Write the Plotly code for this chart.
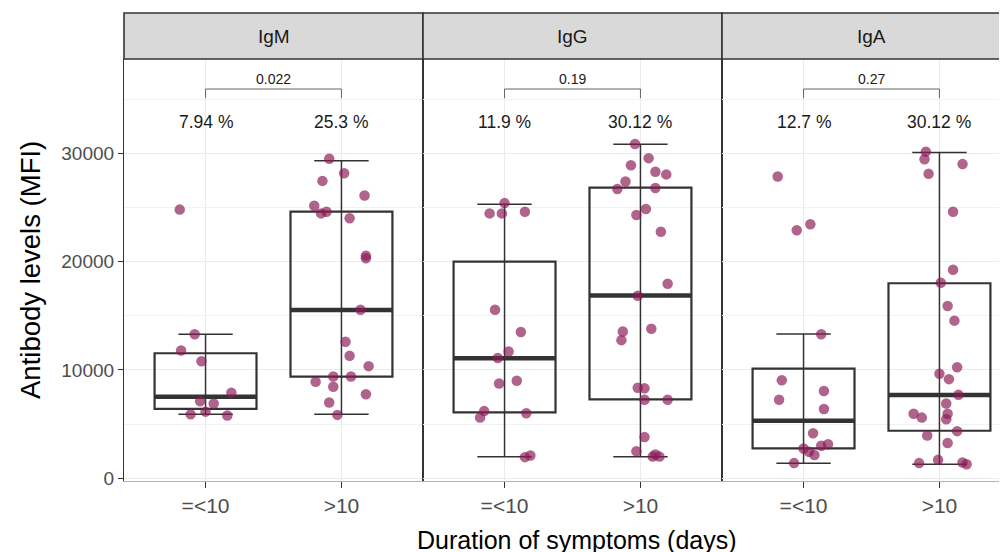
import plotly.graph_objects as go

# ---------------- data ----------------
facets = ["IgM", "IgG", "IgA"]
categories = ["=<10", ">10"]

igm_low = [24800, 13300, 11800, 10800, 7900, 7100, 6900, 5900, 6150, 5800]
igm_high = [29500, 28150, 27450, 26100, 25150, 24450, 24600, 24000, 20550, 20300, 15550,
            12600, 11300, 10350, 9400, 9400, 8900, 8450, 7750, 7000, 5850]
igg_low = [25400, 24450, 24450, 24600, 15550, 13500, 11700, 11100, 8750, 9000, 6200,
           5600, 6000, 1950, 2100]
igg_high = [30850, 29550, 28900, 28300, 28050, 27400, 26700, 26800, 24850, 24300, 22750,
            17950, 16850, 13550, 12750, 13800, 8350, 8300, 7250, 7250, 3800, 2500, 2000,
            2000, 2200]
iga_low = [27850, 23450, 22900, 13300, 9050, 8050, 7250, 6400, 4150, 2750, 2450, 2150,
           3000, 3150, 1400]
iga_high = [30150, 29450, 29000, 28100, 24600, 19250, 18050, 15900, 14550, 10250, 9650,
            9150, 7700, 6900, 5950, 5600, 5950, 5450, 4350, 3950, 3250, 1400, 1700, 1450, 1300]

# horizontal jitter (category units)
jit_igm_low = [-0.19, -0.08, -0.18, -0.03, 0.19, -0.04, 0.06, -0.11, 0.0, 0.16]
jit_igm_high = [-0.09, 0.02, -0.14, 0.17, -0.2, -0.15, -0.11, 0.06, 0.18, 0.18, 0.14, 0.03,
                0.06, 0.2, -0.06, 0.07, -0.19, -0.06, 0.18, -0.09, -0.03]
jit_igg_low = [0, -0.11, -0.02, 0.15, -0.07, 0.12, 0.03, -0.05, -0.04, 0.09, -0.15, -0.18,
               0.16, 0.15, 0.19]
jit_igg_high = [-0.04, 0.06, -0.07, 0.11, 0.19, -0.11, -0.17, 0.11, 0.04, -0.03, 0.15, 0.2,
                -0.02, -0.13, -0.14, 0.08, -0.02, 0.03, 0.03, 0.2, 0.03, -0.03, 0.09, 0.14, 0.11]
jit_iga_low = [-0.19, 0.05, -0.05, 0.13, -0.16, 0.15, -0.18, 0.15, 0.07, 0.0, 0.04, 0.08,
               0.13, 0.18, -0.07]
jit_iga_high = [-0.1, -0.11, 0.17, -0.08, 0.1, 0.1, 0.01, 0.06, 0.11, 0.13, 0.0, 0.07, 0.14,
                0.05, -0.19, -0.13, 0.06, 0.05, 0.13, -0.09, 0.06, -0.15, -0.01, 0.17, 0.2]

# box statistics per facet: [=<10, >10]
box_q1 = [[6400, 9380], [6090, 7290], [2770, 4390]]
box_median = [[7530, 15530], [11080, 16860], [5320, 7690]]
box_q3 = [[11540, 24610], [19990, 26830], [10120, 18000]]
whisker_low = [[5910, 5910], [1990, 1990], [1390, 1290]]
whisker_high = [[13290, 29320], [25290, 30830], [13320, 30060]]

pct_labels = [["7.94 %", "25.3 %"], ["11.9 %", "30.12 %"], ["12.7 %", "30.12 %"]]
p_values = ["0.022", "0.19", "0.27"]

y_ticks = [0, 10000, 20000, 30000]

values = [[igm_low, igm_high], [igg_low, igg_high], [iga_low, iga_high]]
jitters = [[jit_igm_low, jit_igm_high], [jit_igg_low, jit_igg_high], [jit_iga_low, jit_iga_high]]

# ---------------- layout constants ----------------
OFF = 8  # page body margin
# page pixel positions (third panel continues past the visible edge, as in the reference crop)
panel_page = [(124, 423), (423, 722), (722, 1021)]
strip_top_page, panel_top_page, panel_bot_page = 13, 59, 481
W = panel_page[-1][1] - OFF + 2
H = 545
ML = 124 - OFF
MT = strip_top_page - OFF
MR = W - (panel_page[-1][1] - OFF)
MB = H - (panel_bot_page - OFF)
PW = W - ML - MR
PH = H - MT - MB


def px_x(p):
    return (p - OFF - ML) / PW


def px_y(p):
    return (panel_bot_page - p) / PH


FONT = "Liberation Sans, Arial, Helvetica, sans-serif"
POINT_COLOR = "rgba(139,26,85,0.68)"
BOX_COLOR = "#333333"

ydom_top = (panel_bot_page - panel_top_page) / PH

fig = go.Figure()

for f in range(3):
    xa = "x" if f == 0 else f"x{f+1}"
    ya = "y" if f == 0 else f"y{f+1}"
    for c in range(2):
        lo, hi = whisker_low[f][c], whisker_high[f][c]
        fig.add_trace(go.Scatter(
            x=[c, c, None, c - 0.2, c + 0.2, None, c - 0.2, c + 0.2],
            y=[lo, hi, None, lo, lo, None, hi, hi],
            mode="lines", line=dict(color=BOX_COLOR, width=1.5),
            xaxis=xa, yaxis=ya, showlegend=False, hoverinfo="skip"))
        fig.add_trace(go.Box(
            x=[c], q1=[box_q1[f][c]], median=[box_median[f][c]], q3=[box_q3[f][c]],
            lowerfence=[box_q1[f][c]], upperfence=[box_q3[f][c]],
            width=0.75, whiskerwidth=0, fillcolor="rgba(0,0,0,0)",
            line=dict(color=BOX_COLOR, width=2.2), boxpoints=False,
            xaxis=xa, yaxis=ya, showlegend=False, hoverinfo="skip"))
        fig.add_trace(go.Scatter(
            x=[c - 0.375, c + 0.375], y=[box_median[f][c]] * 2,
            mode="lines", line=dict(color=BOX_COLOR, width=4.5),
            xaxis=xa, yaxis=ya, showlegend=False, hoverinfo="skip"))
    for c in range(2):
        vals = values[f][c]
        jit = jitters[f][c]
        fig.add_trace(go.Scatter(
            x=[c + j for j in jit], y=vals, mode="markers",
            marker=dict(color=POINT_COLOR, size=10.5, line=dict(width=0)),
            xaxis=xa, yaxis=ya, showlegend=False))
    fig.add_trace(go.Scatter(
        x=[0, 0, 1, 1], y=[35077, 35930, 35930, 35077], mode="lines",
        line=dict(color="#555555", width=0.9),
        xaxis=xa, yaxis=ya, showlegend=False, hoverinfo="skip"))
    fig.add_annotation(x=0.5, y=36900, xref=xa, yref=ya, text=p_values[f], showarrow=False,
                       font=dict(family=FONT, size=14, color="#1a1a1a"))
    for c in range(2):
        fig.add_annotation(x=c, y=32900, xref=xa, yref=ya, text=pct_labels[f][c],
                           showarrow=False, font=dict(family=FONT, size=17.5, color="#1a1a1a"))

    x0 = px_x(panel_page[f][0])
    x1 = px_x(panel_page[f][1])
    fig.add_shape(type="rect", xref="paper", yref="paper", x0=x0, x1=x1,
                  y0=ydom_top, y1=1.0, fillcolor="#d9d9d9",
                  line=dict(color="#333333", width=1.6), layer="above")
    fig.add_annotation(x=0.5, xref=xa, y=(ydom_top + 1) / 2, yref="paper", text=facets[f],
                       showarrow=False, yanchor="middle",
                       font=dict(family=FONT, size=19, color="#1a1a1a"))

    xkey = "xaxis" if f == 0 else f"xaxis{f+1}"
    ykey = "yaxis" if f == 0 else f"yaxis{f+1}"
    fig.update_layout({
        xkey: dict(domain=[x0, x1], range=[-0.6, 1.6], anchor=ya,
                   tickvals=[0, 1], ticktext=categories, ticks="outside", ticklen=6,
                   tickcolor="#333333", tickwidth=1.2,
                   tickfont=dict(family=FONT, size=21, color="#4d4d4d"),
                   showgrid=True, gridcolor="#ebebeb", gridwidth=1.1,
                   showline=True, linecolor="#b3b3b3", linewidth=1,
                   zeroline=False, fixedrange=True),
        ykey: dict(domain=[0, ydom_top], range=[-250, 38700], anchor=xa,
                   tickvals=y_ticks, ticktext=[str(v) for v in y_ticks],
                   showticklabels=(f == 0), ticks="outside" if f == 0 else "",
                   ticklen=5, tickcolor="#333333", tickwidth=1.2,
                   tickfont=dict(family=FONT, size=19, color="#4d4d4d"),
                   showgrid=True, gridcolor="#ebebeb", gridwidth=1.1,
                   minor=dict(dtick=5000, tick0=0, showgrid=True, gridcolor="#f2f2f2",
                              gridwidth=0.8, ticks=""),
                   showline=True, mirror=True, linecolor="#333333", linewidth=1.2,
                   zeroline=False, fixedrange=True,
                   **({} if f == 0 else {"matches": "y"})),
    })

fig.add_annotation(x=px_x(577), y=px_y(540), xref="paper", yref="paper",
                   text="Duration of symptoms (days)", showarrow=False,
                   xanchor="center", yanchor="middle",
                   font=dict(family=FONT, size=25, color="#000000"))
fig.add_annotation(x=px_x(30), y=px_y(270), xref="paper", yref="paper",
                   text="Antibody levels (MFI)", showarrow=False, textangle=-90,
                   xanchor="center", yanchor="middle",
                   font=dict(family=FONT, size=27.5, color="#000000"))

fig.update_layout(
    width=W, height=H, autosize=False,
    margin=dict(l=ML, r=MR, t=MT, b=MB),
    paper_bgcolor="white", plot_bgcolor="white",
    showlegend=False,
)

fig.write_html("out.html")
